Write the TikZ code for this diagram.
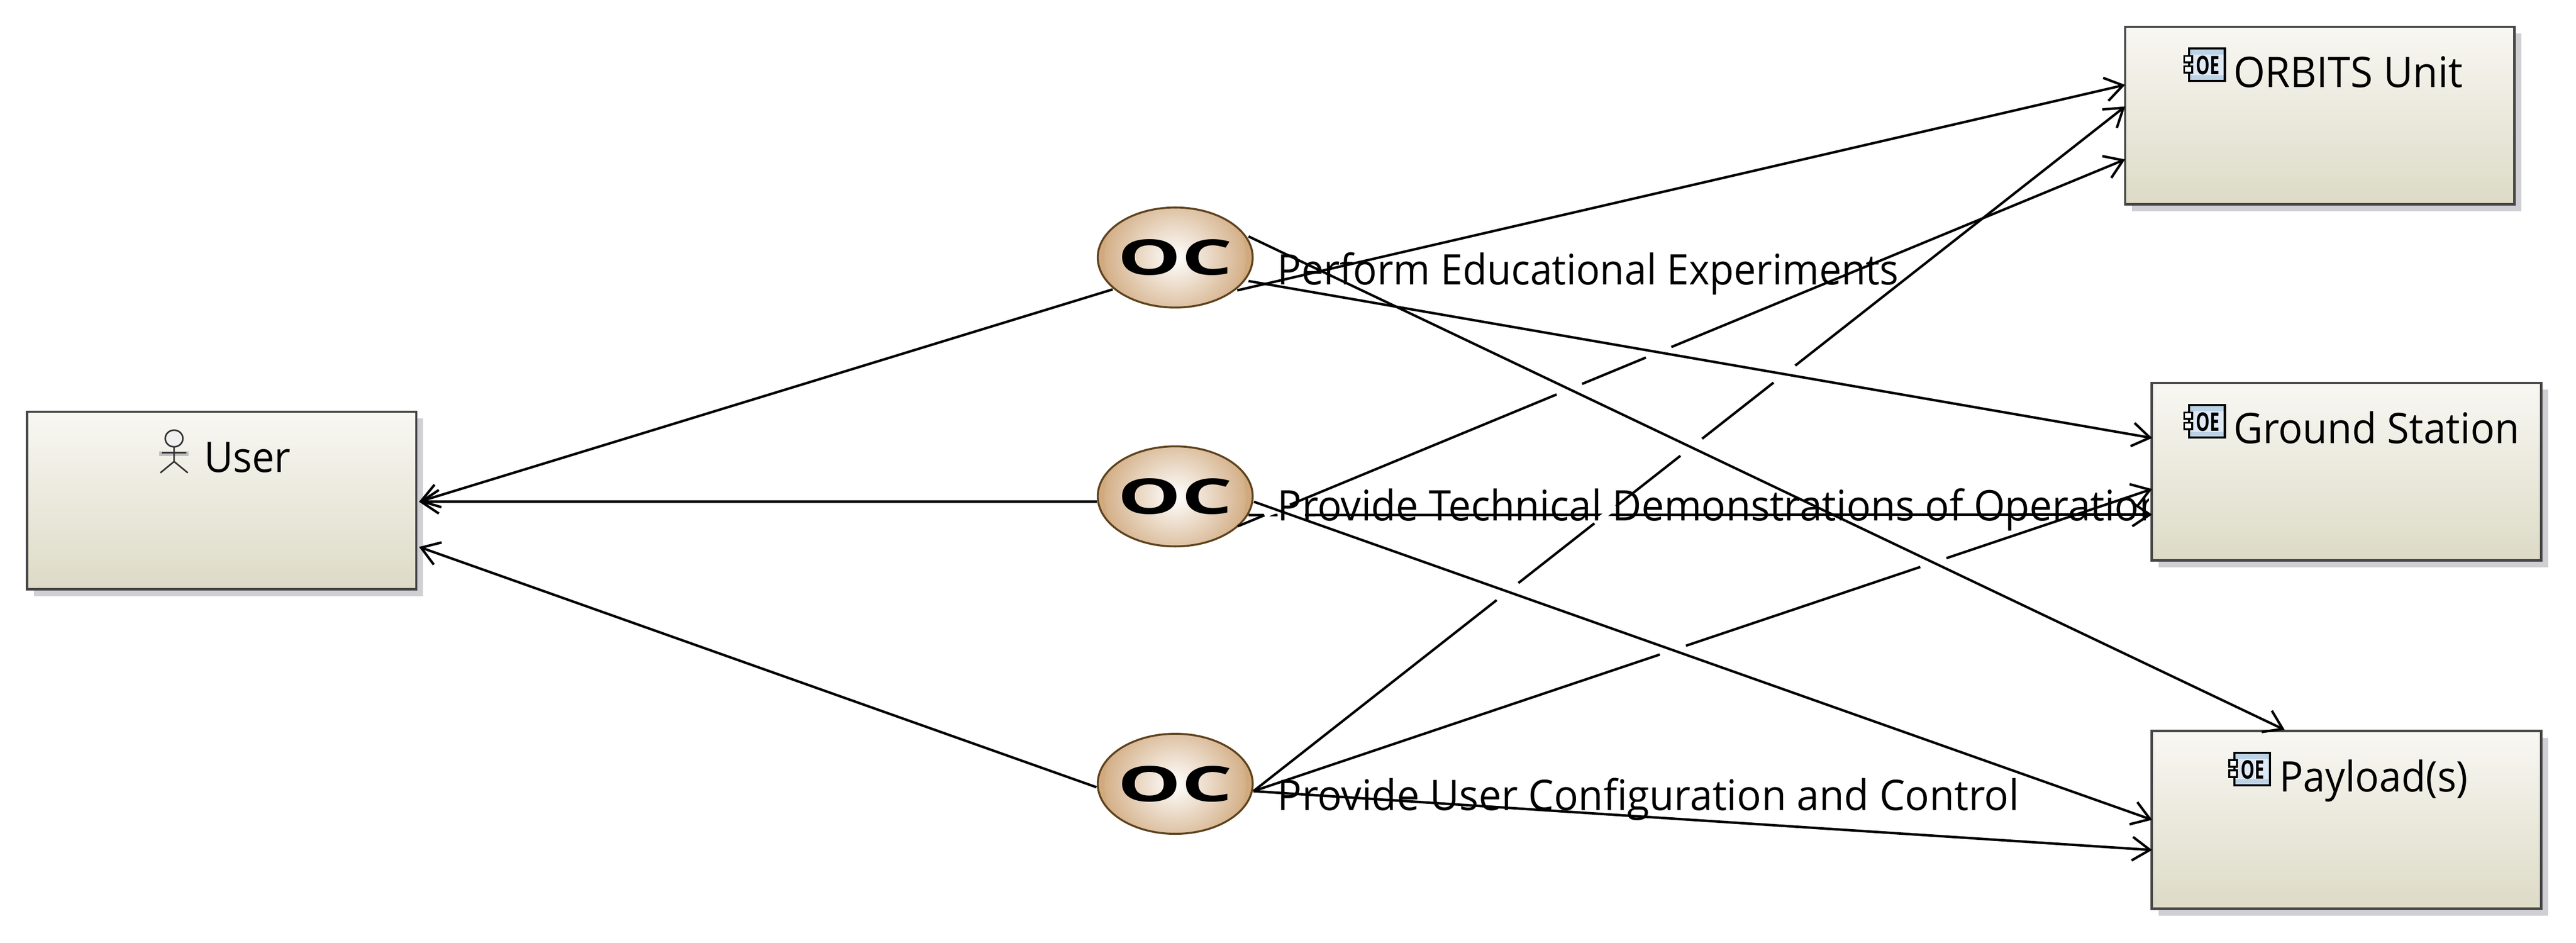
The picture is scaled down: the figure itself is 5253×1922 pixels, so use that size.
\documentclass[tikz,border=0pt]{standalone}
\usepackage{fontspec}
\setmainfont{Open Sans}
\usetikzlibrary{shapes.geometric,arrows.meta,shadows,calc,intersections}
\definecolor{boxtop}{HTML}{F8F7F3}
\definecolor{boxbot}{HTML}{DDDBC6}
\definecolor{boxline}{HTML}{474747}
\definecolor{shadowc}{HTML}{CFCFD4}
\definecolor{octan}{HTML}{D0A97E}
\definecolor{ocline}{HTML}{5E431E}
\definecolor{iconfill}{HTML}{DFE9F6}
\definecolor{iconband}{HTML}{BCD3E6}
\tikzset{
  actorbox/.style={draw=boxline,line width=2.4pt,rectangle,inner sep=0pt,
    minimum width=397pt,minimum height=181pt,top color=boxtop,bottom color=boxbot,
    drop shadow={shadow xshift=7pt,shadow yshift=-7pt,fill=shadowc,opacity=1}},
  ocnode/.style={ellipse,draw=ocline,line width=2pt,inner sep=0pt,
    minimum width=158pt,minimum height=102pt,fill=octan,
    path picture={\shade[inner color=white,outer color=octan]
      (path picture bounding box.center) circle[radius=72pt];}},
  octag/.style={inner sep=0pt,font=\fontsize{50}{50}\bfseries},
  conn/.style={draw=black,line width=2.5pt},
  arrowed/.style={conn,-{Straight Barb[length=18pt,width=24pt,line width=2.5pt]}},
  gapmask/.style={draw=white,line width=5.5pt},
  lbl/.style={anchor=base west,inner sep=0pt,font=\fontsize{43}{43}\selectfont},
  pics/compicon/.style={code={
    \draw[line width=2.2pt,draw=black,fill=iconband] (12,2) rectangle (85,68);
    \fill[iconfill] (15,14) rectangle (82,56);
    \draw[line width=2pt,draw=black,fill=white] (2,17) rectangle (18,30);
    \draw[line width=2pt,draw=black,fill=white] (2,38) rectangle (18,51);
    \node[inner sep=0pt,font=\fontsize{26}{26}\bfseries] at (50,36) {\scalebox{.68}[1]{OE}};
  }},
  pics/actoricon/.style={code={
    \fill[black!25] (1,43) rectangle (60,53);
    \draw[line width=1.6pt,draw=black!80,fill=black!6] (31,17) ellipse[x radius=9pt,y radius=8.5pt];
    \draw[line width=1.6pt,draw=black!80] (31,34) -- (31,64) (6,46) -- (56,46) (3,87) -- (31,64) -- (59,87);
  }}
}
\newcommand{\octext}{\scalebox{1.63}[1]{OC}}
\begin{document}
\begin{tikzpicture}[x=0.5pt,y=-0.5pt]
\useasboundingbox (0,0) rectangle (5253,1922);
% boxes
\node[actorbox] (user) at (452,1020.5) {};
\node[actorbox] (orbits) at (4730.5,235.5) {};
\node[actorbox] (ground) at (4785,961.5) {};
\node[actorbox] (payload) at (4785,1671.5) {};
% use-case ellipses
\node[ocnode] (oc1) at (2396.5,525) {};
\node[octag] (oc1tag) at (oc1.center) {\octext};
\node[ocnode] (oc2) at (2396.5,1012) {};
\node[octag] (oc2tag) at (oc2.center) {\octext};
\node[ocnode] (oc3) at (2396.5,1598) {};
\node[octag] (oc3tag) at (oc3.center) {\octext};
% connector end points, attached to the nodes
\coordinate (a1O) at ([shift={(126.5,67)}]oc1.center);
\coordinate (a1G) at ([shift={(149.5,48)}]oc1.center);
\coordinate (a1P) at ([shift={(149.5,-43)}]oc1.center);
\coordinate (a2O) at ([shift={(127.5,61)}]oc2.center);
\coordinate (a2G) at ([shift={(149.5,38)}]oc2.center);
\coordinate (a2P) at ([shift={(160.5,11)}]oc2.center);
\coordinate (a3) at ([shift={(159.5,15)}]oc3.center);
\coordinate (t1O) at ([shift={(2.5,-62.5)}]orbits.west);
\coordinate (t3O) at ([shift={(2.5,-18.5)}]orbits.west);
\coordinate (t2O) at ([shift={(2.5,89.5)}]orbits.west);
\coordinate (t1G) at ([shift={(3,-68.5)}]ground.west);
\coordinate (t3G) at ([shift={(3,35.5)}]ground.west);
\coordinate (t2G) at ([shift={(3,87.5)}]ground.west);
\coordinate (t2P) at ([shift={(3,0)}]payload.west);
\coordinate (t3P) at ([shift={(3,61.5)}]payload.west);
\coordinate (t1P) at ([shift={(-126,0)}]payload.north);
% lines with jumps, drawn first
\draw[arrowed] (a2O) -- (t2O);
\draw[arrowed] (a3) -- (t3O);
\draw[arrowed] (a3) -- (t3G);
\draw[arrowed] (a2G) -- (t2G);
% crossing paths
\path[name path=p1G] (a1G) -- (t1G);
\path[name path=p1P] (a1P) -- (t1P);
\path[name path=p2G] (a2G) -- (t2G);
\path[name path=p2P] (a2P) -- (t2P);
\path[name path=p2O] (a2O) -- (t2O);
\path[name path=p3O] (a3) -- (t3O);
\path[name path=p3G] (a3) -- (t3G);
% jumps
\foreach \cross in {p2P,p1P,p1G}{
  \path[name intersections={of=p2O and \cross,by=jumpat}];
  \draw[gapmask] ($(jumpat)!14pt!(a2O)$) -- ($(jumpat)!14pt!(t2O)$);
}
\foreach \cross in {p2P,p2G,p1P,p1G}{
  \path[name intersections={of=p3O and \cross,by=jumpat}];
  \draw[gapmask] ($(jumpat)!14pt!(a3)$) -- ($(jumpat)!14pt!(t3O)$);
}
\foreach \cross in {p2P,p1P}{
  \path[name intersections={of=p3G and \cross,by=jumpat}];
  \draw[gapmask] ($(jumpat)!14pt!(a3)$) -- ($(jumpat)!14pt!(t3G)$);
}
\path[name intersections={of=p2G and p2P,by=jumpat}];
\draw[gapmask] ($(jumpat)!14pt!(a2G)$) -- ($(jumpat)!14pt!(t2G)$);
% unbroken lines
\draw[arrowed] (a1O) -- (t1O);
\draw[arrowed] (a1G) -- (t1G);
\draw[arrowed] (a1P) -- (t1P);
\draw[arrowed] (a2P) -- (t2P);
\draw[arrowed] (a3) -- (t3P);
\draw[arrowed] ([shift={(-127.5,65)}]oc1.center) -- ([shift={(3,2.5)}]user.east);
\draw[arrowed] ([shift={(-160,11)}]oc2.center) -- ([shift={(3,2.5)}]user.east);
\draw[arrowed] ([shift={(-160.5,7)}]oc3.center) -- ([shift={(3,94.5)}]user.east);
% connector labels
\node[lbl] (lab1) at (2605,580) {\scalebox{.94}[1]{Perform Educational Experiments}};
\begin{scope}
\clip (0,0) rectangle (4382,1922);
\node[lbl] (lab2) at (2605,1062) {\scalebox{.955}[1]{Provide Technical Demonstrations of Operations}};
\end{scope}
\node[lbl] (lab3) at (2605,1652) {\scalebox{.96}[1]{Provide User Configuration and Control}};
% box labels and icons
\pic at (324,877) {actoricon};
\node[lbl] (userlabel) at (416,963) {\scalebox{.945}[1]{User}};
\pic at (4452,97) {compicon};
\node[lbl] (orbitslabel) at (4554,178) {\scalebox{.965}[1]{ORBITS Unit}};
\pic at (4452,824) {compicon};
\node[lbl] (groundlabel) at (4554,904.5) {\scalebox{.955}[1]{Ground Station}};
\pic at (4544,1533) {compicon};
\node[lbl] (payloadlabel) at (4648,1614) {\scalebox{.94}[1]{Payload(s)}};
\end{tikzpicture}
\end{document}
